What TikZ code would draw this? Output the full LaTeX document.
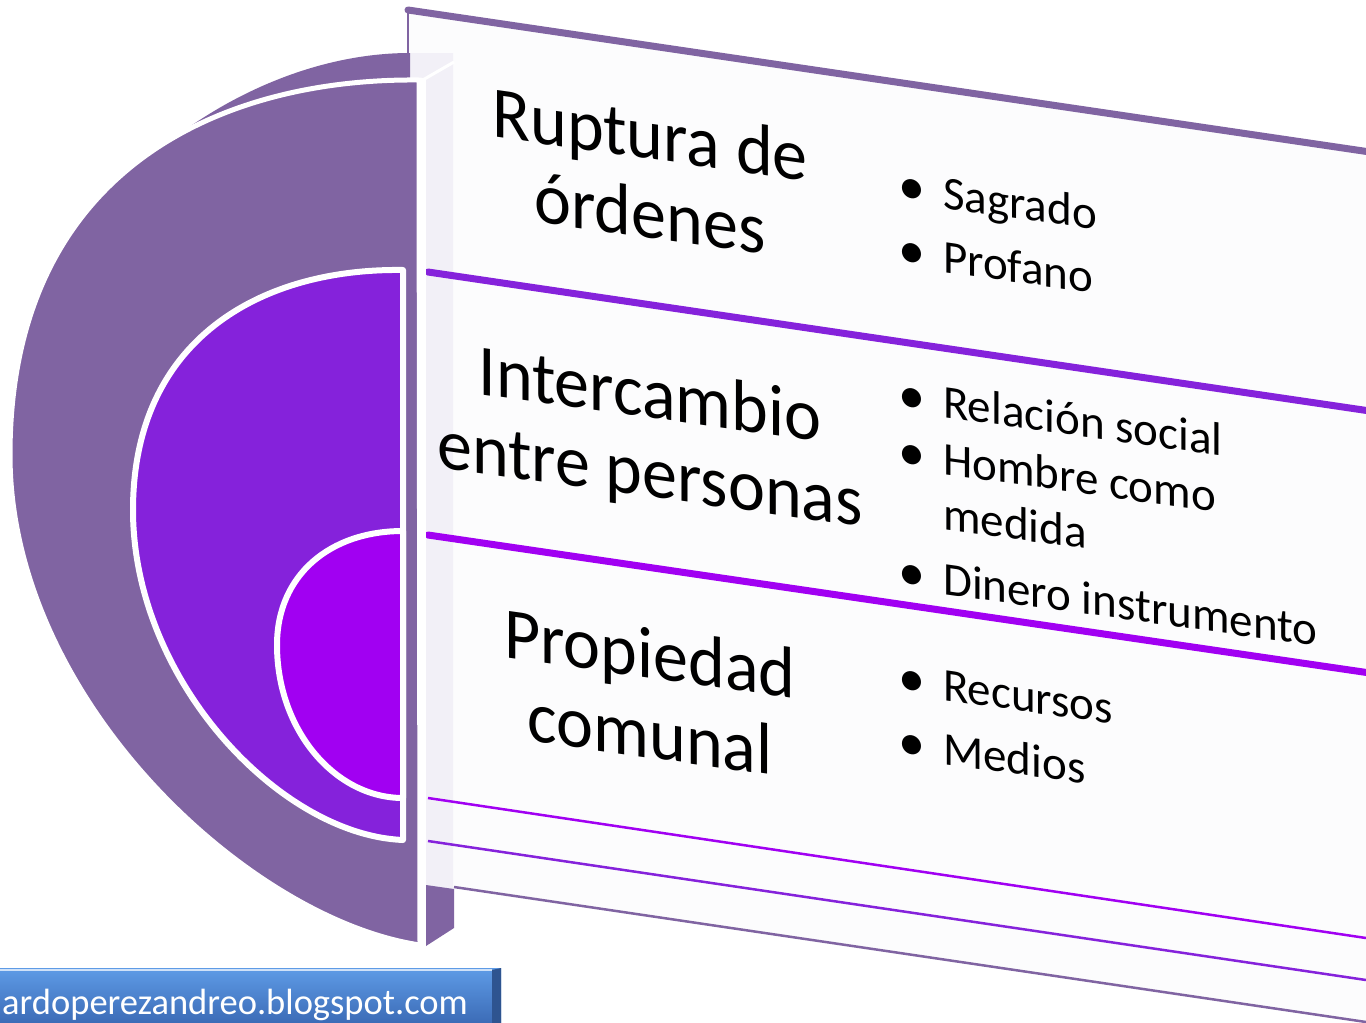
\documentclass[tikz,border=0pt]{standalone}
\usepackage{fontspec}
\setmainfont{Carlito}
\newcommand{\ttlfont}{\fontsize{70}{82}\selectfont}
\newcommand{\itmfont}{\fontsize{47}{57}\selectfont}
\newcommand{\wmfont}{\fontsize{36.5}{44}\selectfont}
\definecolor{outerp}{HTML}{8064A2}
\definecolor{midp}{HTML}{8522DB}
\definecolor{innp}{HTML}{A100F2}
\definecolor{sidel}{HTML}{F2F0F7}
\definecolor{panelw}{HTML}{FCFCFD}
\definecolor{wmtop}{HTML}{5E9BE6}
\definecolor{wmbot}{HTML}{3A69B4}
\newcommand{\sltext}[5]{\begin{scope}[cm={1,-0.14,0,1,(#3,#4)}]\node[#1,transform shape] (#2) at (0,0) {#5};\end{scope}}
\tikzset{
  ttl/.style={font=\ttlfont, anchor=base, inner sep=0pt, text=black, yscale=1.04},
  itm/.style={font=\itmfont, anchor=base west, inner sep=0pt, text=black},
  bul/.style={font=\itmfont, anchor=base, inner sep=0pt, text=black, scale=1.15},
  thickrule/.style={line width=7pt, line cap=round},
  thinrule/.style={line width=2.5pt},
  disc/.style={draw=white, line width=6pt, line join=round},
}
\begin{document}
\begin{tikzpicture}[x=1pt,y=1pt]
\useasboundingbox (0,0) rectangle (1366,-1023);
\fill[white] (0,0) rectangle (1366,-1023);
% panel body
\fill[panelw] (408,-10) -- (1366,-152) -- (1366,-1022) -- (454,-887) -- (408,-887) -- cycle;
% panel top edge
\draw[outerp, line width=2.5pt] (408,-60) -- (408,-10);
\draw[outerp, line width=7pt, line cap=round, line join=round] (408,-10) -- (1370,-152);
% side face of the panel stack
\fill[sidel] (408,-53) -- (453,-53) -- (453,-889) -- (408,-885) -- cycle;
\fill[outerp] (426,-885) -- (454,-889) -- (454,-928) -- (426,-946) -- cycle;
% row rules
\draw[midp, thickrule] (428,-272) -- (1370,-411);
\draw[innp, thickrule] (428,-535) -- (1370,-673);
\draw[innp, thinrule] (428,-798) -- (1366,-938);
\draw[midp, thinrule] (428,-841) -- (1366,-980);
\draw[outerp, thinrule] (454,-887) -- (1366,-1022);
% outer half disc: back sliver and front face
\fill[outerp] (185,-130) .. controls (250,-84) and (330,-53) .. (410,-53) -- (410,-120) -- cycle;
\filldraw[fill=outerp, draw=white, line width=5pt]
  (419,-80) .. controls (220,-78) and (10,-170) .. (10,-455)
  .. controls (10,-700) and (250,-920) .. (420,-945) -- cycle;
\draw[white, line width=7pt] (422,-78) -- (422,-946);
\draw[white, line width=3pt] (421,-81) -- (454,-62);
% middle half disc
\filldraw[disc, fill=midp]
  (403,-270) .. controls (260,-268) and (133,-340) .. (133,-510)
  .. controls (133,-680) and (280,-835) .. (403,-840) -- cycle;
% inner half disc
\filldraw[disc, fill=innp]
  (403,-531) .. controls (330,-531) and (277,-575) .. (277,-645)
  .. controls (277,-730) and (335,-798) .. (403,-798) -- cycle;
% titles
\sltext{ttl}{t1a}{650}{-159}{Ruptura de}
\sltext{ttl}{t1b}{650}{-238}{órdenes}
\sltext{ttl}{t2a}{650}{-418}{Intercambio}
\sltext{ttl}{t2b}{650}{-497}{entre personas}
\sltext{ttl}{t3a}{650}{-678}{Propiedad}
\sltext{ttl}{t3b}{650}{-758}{comunal}
% items
\sltext{bul}{b1}{912}{-204}{•}
\sltext{itm}{i1}{943}{-208}{Sagrado}
\sltext{bul}{b2}{912}{-268}{•}
\sltext{itm}{i2}{943}{-272}{Profano}
\sltext{bul}{b3}{912}{-413}{•}
\sltext{itm}{i3}{943}{-417}{Relación social}
\sltext{bul}{b4}{912}{-470}{•}
\sltext{itm}{i4}{943}{-474}{Hombre como}
\sltext{itm}{i5}{943}{-529}{medida}
\sltext{bul}{b6}{912}{-590}{•}
\sltext{itm}{i6}{943}{-594}{Dinero instrumento}
\sltext{bul}{b7}{912}{-696}{•}
\sltext{itm}{i7}{943}{-700}{Recursos}
\sltext{bul}{b8}{912}{-760}{•}
\sltext{itm}{i8}{943}{-764}{Medios}
% watermark
\shade[top color=wmtop, bottom color=wmbot] (-3,-968) rectangle (501,-1026);
\draw[white!70!wmtop, line width=1.5pt] (-3,-970) -- (492,-970);
\fill[wmbot!80!black] (492,-970) -- (501,-968) -- (501,-1026) -- (492,-1026) -- cycle;
\node[font=\wmfont, text=white, anchor=base west, inner sep=0pt] (url) at (2,-1014) {ardoperezandreo.blogspot.com};
\end{tikzpicture}
\end{document}
